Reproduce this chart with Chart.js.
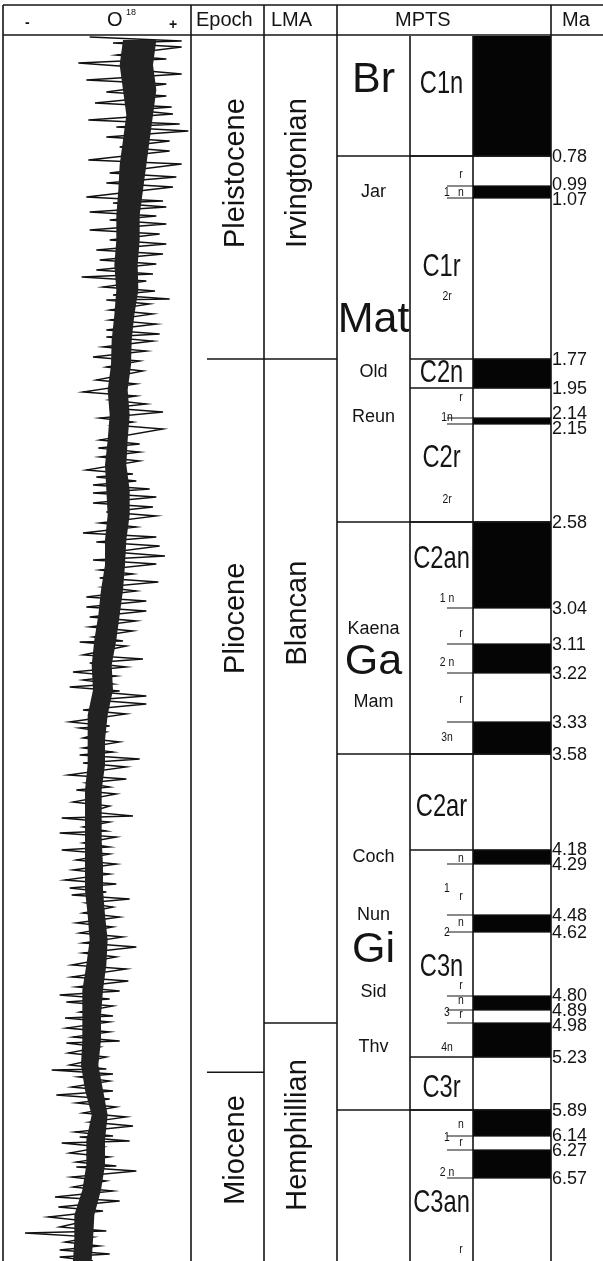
<!DOCTYPE html>
<html>
<head>
<meta charset="utf-8">
<script src="https://cdn.jsdelivr.net/npm/chart.js@4.4.0/dist/chart.umd.min.js"></script>
<style>
  html, body { margin: 0; padding: 0; background: #fff; }
  #wrap { position: relative; width: 603px; height: 1261px; }
</style>
</head>
<body>
<div id="wrap"><canvas id="myChart"></canvas></div>
<script>
// normal polarity intervals (black), Ma
const normalChrons = [[0, 0.78], [0.99, 1.07], [1.77, 1.95], [2.14, 2.15], [2.58, 3.04], [3.11, 3.22],
  [3.33, 3.58], [4.18, 4.29], [4.48, 4.62], [4.80, 4.89], [4.98, 5.23], [5.89, 6.14], [6.27, 6.57]];
const maTicks = [0.78, 0.99, 1.07, 1.77, 1.95, 2.14, 2.15, 2.58, 3.04, 3.11, 3.22, 3.33, 3.58,
  4.18, 4.29, 4.48, 4.62, 4.80, 4.89, 4.98, 5.23, 5.89, 6.14, 6.27, 6.57];
const chronBounds = [0.78, 1.77, 1.95, 2.58, 3.58, 4.18, 5.23, 5.89];
const polarityBounds = [0.78, 2.58, 3.58, 5.89];
const epochBounds = [1.77, 5.42];
const lmaBounds = [1.77, 4.98];

const epochLabels = [['Pleistocene', 0.90], ['Pliocene', 3.06], ['Miocene', 6.27]];
const lmaLabels = [['Irvingtonian', 0.90], ['Blancan', 3.05], ['Hemphillian', 6.13]];
const polarityLabels = [['Br', 0.29], ['Mat', 1.60], ['Ga', 3.18], ['Gi', 4.67]];
const eventLabels = [['Jar', 1.03], ['Old', 1.85], ['Reun', 2.137], ['Kaena', 3.08], ['Mam', 3.285],
  ['Coch', 4.235], ['Nun', 4.48], ['Sid', 4.79], ['Thv', 5.16]];
const chronLabels = [['C1n', 0.31], ['C1r', 1.37], ['C2n', 1.86], ['C2r', 2.30], ['C2an', 2.78],
  ['C2ar', 3.91], ['C3n', 4.72], ['C3r', 5.62], ['C3an', 6.70]];
const subLabels = [['r', 0.91], ['1', 1.03], ['n', 1.03], ['2r', 1.50], ['r', 2.01], ['1n', 2.135],
  ['2r', 2.48], ['1 n', 2.99], ['r', 3.09], ['2 n', 3.18], ['r', 3.28], ['3n', 3.45], ['n', 4.25],
  ['1', 4.38], ['r', 4.41], ['n', 4.54], ['2', 4.62], ['r', 4.77], ['n', 4.83], ['3', 4.91], ['r', 4.92],
  ['4n', 5.16], ['n', 6.03], ['1', 6.15], ['r', 6.20], ['2 n', 6.51], ['r', 6.94]];

// age model of the section: age (Ma) -> depth (m)
const ageModelMa = [0, 0.78, 0.99, 1.07, 1.77, 1.95, 2.14, 2.15, 2.58, 3.04, 3.11, 3.22, 3.33, 3.58,
  4.18, 4.29, 4.48, 4.62, 4.80, 4.89, 4.98, 5.23, 5.89, 6.14, 6.27, 6.57, 7.00];
const ageModelDepth = [0, 24.0, 30.0, 32.4, 64.6, 70.4, 76.4, 77.6, 97.2, 114.4, 121.6, 127.4, 137.2, 143.6,
  162.8, 165.6, 175.8, 179.2, 192.0, 194.8, 197.4, 204.2, 214.8, 220.0, 222.8, 228.4, 245.0];

// O18 record (depth m, per mil): alternating low / high swings
const o18Depth = [0.2,1.0, 1.4,2.2, 3.8,4.6, 5.4,6.2, 6.8,7.6, 8.8,9.6, 11.2,12.0, 13.4,14.2, 14.8,15.6, 16.8,17.6,
  18.2,19.0, 20.2,21.0, 22.2,23.0, 24.8,25.6, 27.4,28.2, 29.4,30.2, 32.2,33.0, 33.4,34.2, 35.2,36.0, 36.8,37.6,
  38.8,39.6, 40.8,41.6, 42.8,43.6, 44.8,45.6, 46.8,47.6, 48.2,49.0, 50.2,51.0, 51.8,52.6, 52.8,53.6, 54.8,55.6,
  56.8,57.6, 58.8,59.6,
  60.2,61.0, 62.2,63.0, 64.2,65.0, 66.2,67.0, 68.8,69.6, 71.2,72.0, 72.8,73.6, 74.4,75.2, 76.4,77.2, 77.8,78.6,
  80.8,81.6, 82.4,83.2, 84.2,85.0, 86.8,87.6, 88.2,89.0, 89.8,90.6, 91.4,92.2, 93.4,94.2, 95.2,96.0, 97.4,98.2,
  99.4,100.2, 101.2,102.0, 103.2,104.0, 104.8,105.6, 106.8,107.6, 108.4,109.2, 110.2,111.0, 112.2,113.0,
  114.2,115.0, 116.2,117.0, 118.2,119.0, 120.2,121.0,
  121.2,122.0, 123.8,124.6, 125.4,126.2, 127.2,128.0, 128.8,129.6, 130.2,131.0, 131.2,132.0, 132.8,133.6,
  134.8,135.6, 137.2,138.0, 138.4,139.2, 140.4,141.2, 142.4,143.2, 143.8,144.6, 145.4,146.2, 147.8,148.6,
  149.4,150.2, 150.8,151.6, 153.2,154.0, 155.2,156.0, 156.4,157.2, 158.2,159.0, 159.4,160.2, 161.4,162.2,
  162.8,163.6, 164.8,165.6, 166.8,167.6, 168.8,169.6, 170.4,171.2, 171.8,172.6, 173.4,174.2, 175.4,176.2,
  177.4,178.2, 179.4,180.2, 181.4,182.2,
  183.4,184.2, 185.8,186.6, 188.2,189.0, 190.2,191.0, 191.8,192.6, 193.2,194.0, 195.2,196.0, 196.4,197.2,
  198.4,199.2, 200.2,201.0, 201.4,202.2, 203.4,204.2, 205.8,206.6, 206.8,207.6, 208.2,209.0, 210.2,211.0,
  211.8,212.6, 213.4,214.2, 215.4,216.2, 217.2,218.0, 219.2,220.0, 220.2,221.0, 221.4,222.2, 223.4,224.2,
  225.2,226.0, 226.2,227.0, 228.2,229.0, 230.2,231.0, 232.2,233.0, 234.2,235.0, 236.2,237.0, 238.2,239.0,
  239.4,240.2, 241.2,242.0, 242.8,243.6, 244.2,245.0];
const o18Value = [2.85,4.23, 3.20,4.23, 3.25,4.00, 2.68,3.50, 3.55,4.23, 2.80,4.00, 3.10,4.00, 2.93,4.08, 3.50,4.10,
  2.83,4.20, 3.25,4.33, 3.10,4.05, 3.30,4.05, 2.83,4.23, 3.15,4.15, 3.10,4.10, 2.80,3.95, 3.20,4.00, 2.85,3.85,
  3.15,4.00, 2.85,3.90, 3.15,4.00, 2.95,3.95, 3.00,3.85, 2.95,3.80, 2.73,3.70, 3.05,3.83, 3.20,4.05, 3.10,3.75,
  3.15,3.80, 3.15,3.85, 3.10,3.90,
  3.10,3.80, 3.05,3.70, 2.90,3.60, 3.10,3.65, 2.95,3.55, 2.75,3.55, 3.15,3.70, 3.15,3.95, 3.00,3.50, 3.20,3.95,
  3.00,3.60, 2.98,3.60, 3.00,3.60, 2.80,3.50, 2.95,3.55, 2.90,3.75, 2.90,3.85, 2.90,3.80, 3.10,3.85, 3.00,3.55,
  2.75,3.85, 2.95,3.90, 3.20,3.98, 2.90,3.85, 3.00,3.50, 3.00,3.88, 3.05,3.55, 2.80,3.70, 2.80,3.70, 2.85,3.55,
  2.85,3.50, 2.90,3.35,
  2.70,3.40, 2.75,3.65, 2.85,3.40, 2.60,3.25, 2.75,3.20, 2.55,3.30, 3.00,3.70, 2.90,3.70, 2.75,3.40, 2.55,3.15,
  2.70,3.10, 2.75,3.30, 2.75,3.20, 2.70,3.60, 2.75,3.40, 2.53,3.40, 2.80,3.15, 2.65,3.25, 2.60,3.15, 2.85,3.50,
  2.43,3.15, 2.75,3.10, 2.40,3.25, 2.75,3.15, 2.43,3.15, 2.65,3.25, 2.60,3.15, 2.48,3.25, 2.55,3.10, 2.58,3.45,
  2.80,3.20, 2.75,3.30, 2.65,3.20, 2.70,3.35, 2.75,3.55,
  2.75,3.25, 2.58,3.40, 2.58,3.43, 2.65,3.30, 2.40,3.15, 2.50,3.20, 2.70,3.20, 2.48,3.15, 2.50,3.15, 2.60,3.30,
  2.50,3.00, 2.53,3.10, 2.55,3.10, 2.28,3.20, 2.68,3.15, 2.58,3.20, 2.35,3.15, 2.65,3.25, 2.75,3.40, 2.85,3.50,
  2.63,3.20, 2.70,3.45, 2.43,3.05, 2.55,3.15, 2.65,3.25, 2.65,3.55, 2.58,3.10, 2.60,3.20, 2.33,3.30, 2.38,3.05,
  2.23,2.80, 2.40,3.10, 1.88,2.90, 2.48,3.00, 2.40,3.15, 2.40,2.90];

// dense part of the O18 trace (depth m, per mil)
const coreDepth = [0.8, 5.8, 10.8, 15.8, 20.8, 25.8, 30.8, 35.8, 40.8, 45.8, 50.8, 55.8, 60.8, 65.8, 70.8, 75.8,
  80.8, 85.8, 90.8, 95.8, 100.8, 105.8, 110.8, 115.8, 120.8, 125.8, 130.8, 135.8, 140.8, 145.8, 150.8, 155.8,
  160.8, 165.8, 170.8, 175.8, 180.8, 185.8, 190.8, 195.8, 200.8, 205.8, 210.8, 215.8, 220.8, 225.8, 230.8,
  235.8, 240.8, 245.0];
const coreLow = [3.35, 3.30, 3.35, 3.40, 3.35, 3.30, 3.28, 3.25, 3.25, 3.22, 3.25, 3.22, 3.18, 3.17, 3.12, 3.15,
  3.12, 3.08, 3.10, 3.12, 3.08, 3.08, 3.02, 2.98, 2.92, 2.88, 2.90, 2.82, 2.82, 2.82, 2.78, 2.78,
  2.78, 2.78, 2.78, 2.82, 2.85, 2.80, 2.74, 2.74, 2.74, 2.72, 2.78, 2.88, 2.80, 2.80, 2.74,
  2.62, 2.62, 2.60];
const coreHigh = [3.85, 3.80, 3.85, 3.80, 3.75, 3.70, 3.65, 3.60, 3.60, 3.57, 3.58, 3.52, 3.48, 3.47, 3.42, 3.45,
  3.42, 3.40, 3.45, 3.45, 3.40, 3.38, 3.35, 3.30, 3.25, 3.18, 3.20, 3.12, 3.08, 3.08, 3.03, 3.03,
  3.03, 3.05, 3.05, 3.08, 3.12, 3.10, 3.05, 3.02, 3.02, 2.98, 3.05, 3.12, 3.08, 3.08, 3.02,
  2.92, 2.90, 2.88];

const sectionDepth = ageModelDepth[ageModelDepth.length - 1];

function interp(xs, ys, v) {
  if (v <= xs[0]) return ys[0];
  for (let i = 1; i < xs.length; i++) {
    if (v <= xs[i]) {
      return ys[i - 1] + (v - xs[i - 1]) / (xs[i] - xs[i - 1]) * (ys[i] - ys[i - 1]);
    }
  }
  return ys[ys.length - 1];
}

// age axis drawn through the section's age model
class AgeDepthScale extends Chart.LinearScale {
  getPixelForValue(value) {
    if (value === null || value === undefined || isNaN(value)) return NaN;
    return this.getPixelForDecimal(interp(ageModelMa, ageModelDepth, value) / sectionDepth);
  }
  getValueForPixel(pixel) {
    return interp(ageModelDepth, ageModelMa, this.getDecimalForPixel(pixel) * sectionDepth);
  }
}
AgeDepthScale.id = 'agedepth';
AgeDepthScale.defaults = {};
Chart.register(AgeDepthScale);

const SANS = '"Liberation Sans", Arial, sans-serif';
const INK = '#141414';

function spread(pix, gap) {
  const out = pix.slice();
  for (let k = 0; k < 60; k++) {
    let moved = false;
    for (let i = 1; i < out.length; i++) {
      const d = out[i] - out[i - 1];
      if (d < gap) {
        out[i - 1] -= (gap - d) / 2;
        out[i] += (gap - d) / 2;
        moved = true;
      }
    }
    if (!moved) break;
  }
  return out;
}

const tablePlugin = {
  id: 'tableDraw',
  afterDatasetsDraw(chart) {
    const {ctx, chartArea, scales} = chart;
    const y = scales.y;
    const top = chartArea.top, bottom = chartArea.bottom;
    const headTop = 5;
    const xo = scales.xo, xe = scales.xe, xl = scales.xl, xn = scales.xn, xs = scales.xs, xp = scales.xp, xa = scales.xa;
    const py = a => y.getPixelForValue(a);

    ctx.save();
    ctx.strokeStyle = INK;
    ctx.fillStyle = INK;
    ctx.lineWidth = 1.6;
    const hline = (x0, x1, yy) => { ctx.beginPath(); ctx.moveTo(x0, yy); ctx.lineTo(x1, yy); ctx.stroke(); };
    const vline = (xx, y0, y1) => { ctx.beginPath(); ctx.moveTo(xx, y0); ctx.lineTo(xx, y1); ctx.stroke(); };

    // frame
    hline(xo.left, chart.width, headTop);
    hline(xo.left, chart.width, top - 1);
    [xo.left, xe.left, xl.left, xn.left, xa.left].forEach(xx => vline(xx, headTop, bottom));
    [xs.left, xp.left].forEach(xx => vline(xx, top, bottom));

    epochBounds.forEach(a => hline(xe.left + 16, xe.right, py(a)));
    lmaBounds.forEach(a => hline(xl.left, xl.right, py(a)));
    polarityBounds.forEach(a => hline(xn.left, xp.right, py(a)));
    chronBounds.forEach(a => hline(xs.left, xp.right, py(a)));

    // subchron ticks: every reversal that is not a chron boundary
    ctx.lineWidth = 1.2;
    normalChrons.flat().filter(a => a > 0 && !chronBounds.includes(a)).forEach(a => {
      hline(xs.right - 26, xp.right, py(a));
    });

    // header
    ctx.textBaseline = 'middle';
    ctx.textAlign = 'left';
    const hy = (headTop + top) / 2;
    ctx.font = '20px ' + SANS;
    ctx.fillText('O', xo.left + 104, hy);
    ctx.fillText('Epoch', xe.left + 5, hy);
    ctx.fillText('LMA', xl.left + 7, hy);
    ctx.fillText('MPTS', xn.left + 58, hy);
    ctx.fillText('Ma', xa.left + 11, hy);
    ctx.font = '9px ' + SANS;
    ctx.fillText('18', xo.left + 123, hy - 8);
    ctx.font = 'bold 14px ' + SANS;
    ctx.fillText('-', xo.left + 22, hy + 3);
    ctx.fillText('+', xo.right - 22, hy + 5);

    // epoch / LMA vertical names
    ctx.textAlign = 'center';
    ctx.font = '29px ' + SANS;
    const vtext = (t, x, a) => {
      ctx.save();
      ctx.translate(x, py(a));
      ctx.rotate(-Math.PI / 2);
      ctx.fillText(t, 0, 0);
      ctx.restore();
    };
    epochLabels.forEach(([t, a]) => vtext(t, (xe.left + xe.right) / 2 + 8, a));
    lmaLabels.forEach(([t, a]) => vtext(t, (xl.left + xl.right) / 2 - 3, a));

    // polarity chron names and events
    const nc = (xn.left + xn.right) / 2;
    ctx.font = '43px ' + SANS;
    polarityLabels.forEach(([t, a]) => ctx.fillText(t, nc, py(a)));
    ctx.font = '18px ' + SANS;
    eventLabels.forEach(([t, a]) => ctx.fillText(t, nc, py(a)));

    // chron codes (condensed)
    const sc = (xs.left + xs.right) / 2;
    ctx.font = '32px ' + SANS;
    chronLabels.forEach(([t, a]) => {
      ctx.save();
      ctx.translate(sc, py(a));
      ctx.scale(0.74, 1);
      ctx.fillText(t, 0, 0);
      ctx.restore();
    });
    ctx.font = '13px ' + SANS;
    subLabels.forEach(([t, a]) => {
      const x = /^[0-9]/.test(t) ? xs.right - 26 : xs.right - 12;
      ctx.save();
      ctx.translate(x, py(a));
      ctx.scale(0.8, 1);
      ctx.fillText(t, 0, 0);
      ctx.restore();
    });

    // Ma labels
    ctx.textAlign = 'left';
    ctx.font = '18px ' + SANS;
    const lp = spread(maTicks.map(py), 15);
    maTicks.forEach((a, i) => ctx.fillText(a.toFixed(2), xa.left + 1, lp[i] + 1));
    ctx.restore();
  }
};

const colWidths = {xo: 188, xe: 73, xl: 73, xn: 73, xs: 63, xp: 78, xa: 52};
const xScales = {};
Object.keys(colWidths).forEach((id, i) => {
  xScales[id] = {
    type: 'linear', position: 'bottom', stack: 'cols', stackWeight: colWidths[id], weight: i,
    display: false, offset: false, min: 0, max: 1
  };
});
xScales.xo.min = 1.55;
xScales.xo.max = 4.37;
xScales.xp = {
  type: 'category', labels: ['N'], position: 'bottom', stack: 'cols', stackWeight: colWidths.xp, weight: 5,
  display: false, offset: true
};

function drawChart() {
  const ctx = document.getElementById('myChart');
  const onO18 = {type: 'line', indexAxis: 'y', xAxisID: 'xo', yAxisID: 'yd', pointRadius: 0, tension: 0};
  new Chart(ctx, {
    type: 'bar',
    data: {
      datasets: [Object.assign({
        label: 'core low',
        data: coreDepth.map((d, i) => ({x: coreLow[i], y: d})),
        borderWidth: 0,
        fill: false
      }, onO18), Object.assign({
        label: 'core high',
        data: coreDepth.map((d, i) => ({x: coreHigh[i], y: d})),
        borderWidth: 0,
        backgroundColor: '#222',
        fill: '-1'
      }, onO18), Object.assign({
        label: 'O18',
        data: o18Depth.map((d, i) => ({x: o18Value[i], y: d})),
        borderColor: '#111',
        borderWidth: 1.4,
        fill: false
      }, onO18), {
        type: 'bar',
        label: 'polarity',
        xAxisID: 'xp',
        yAxisID: 'y',
        data: normalChrons.map(c => ({x: 'N', y: c})),
        backgroundColor: '#050505',
        borderWidth: 0,
        grouped: false,
        barPercentage: 1,
        categoryPercentage: 1
      }]
    },
    options: {
      responsive: true,
      maintainAspectRatio: false,
      animation: false,
      layout: { padding: { left: 3, top: 36, right: 0, bottom: 0 } },
      plugins: { legend: { display: false }, tooltip: { enabled: false } },
      scales: Object.assign({}, xScales, {
        y: { type: 'agedepth', position: 'left', reverse: true, min: 0, max: 7.0, display: false },
        yd: { type: 'linear', position: 'left', reverse: true, min: 0, max: sectionDepth, display: false }
      })
    },
    plugins: [tablePlugin]
  });
}

window.addEventListener('DOMContentLoaded', function () {
  drawChart();
});
</script>
</body>
</html>
